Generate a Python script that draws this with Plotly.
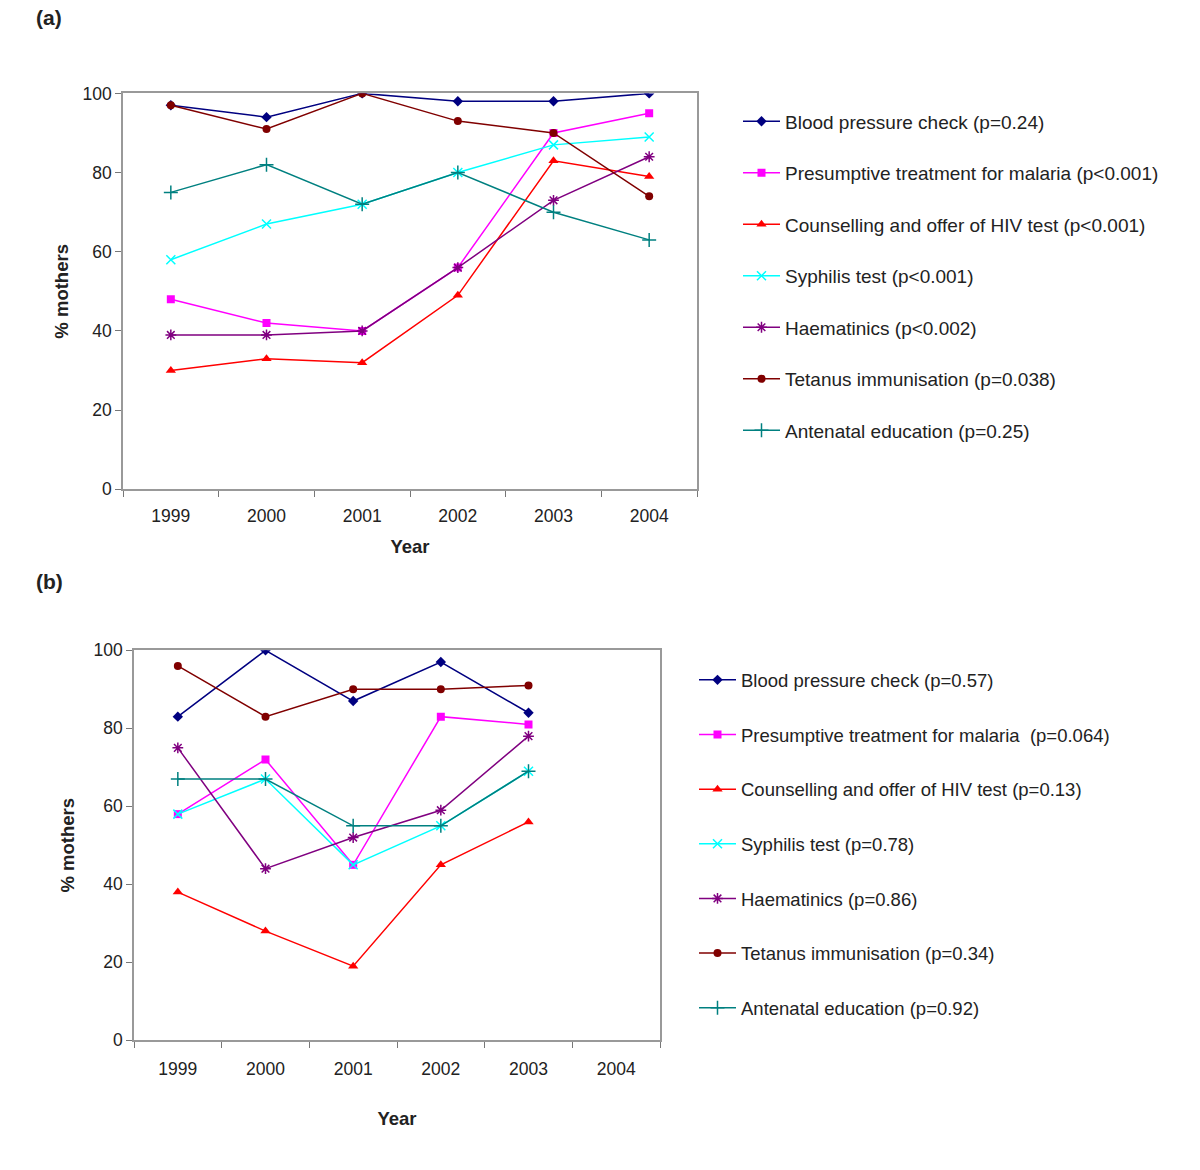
import plotly.graph_objects as go

years = ["1999", "2000", "2001", "2002", "2003", "2004"]

names_a = [
    "Blood pressure check (p=0.24)",
    "Presumptive treatment for malaria (p<0.001)",
    "Counselling and offer of HIV test (p<0.001)",
    "Syphilis test (p<0.001)",
    "Haematinics (p<0.002)",
    "Tetanus immunisation (p=0.038)",
    "Antenatal education (p=0.25)",
]
names_b = [
    "Blood pressure check (p=0.57)",
    "Presumptive treatment for malaria  (p=0.064)",
    "Counselling and offer of HIV test (p=0.13)",
    "Syphilis test (p=0.78)",
    "Haematinics (p=0.86)",
    "Tetanus immunisation (p=0.34)",
    "Antenatal education (p=0.92)",
]

bp_a = [97, 94, 100, 98, 98, 100]
malaria_a = [48, 42, 40, 56, 90, 95]
hiv_a = [30, 33, 32, 49, 83, 79]
syphilis_a = [58, 67, 72, 80, 87, 89]
haem_a = [39, 39, 40, 56, 73, 84]
tetanus_a = [97, 91, 100, 93, 90, 74]
educ_a = [75, 82, 72, 80, 70, 63]

bp_b = [83, 100, 87, 97, 84, None]
malaria_b = [58, 72, 45, 83, 81, None]
hiv_b = [38, 28, 19, 45, 56, None]
syphilis_b = [58, 67, 45, 55, 69, None]
haem_b = [75, 44, 52, 59, 78, None]
tetanus_b = [96, 83, 90, 90, 91, None]
educ_b = [67, 67, 55, 55, 69, None]

colors = ["#000080", "#FF00FF", "#FF0000", "#00FFFF", "#800080", "#800000", "#008080"]
symbols = ["diamond", "square", "triangle-up", "x-thin-open", "asterisk-open", "circle", "cross-thin-open"]
sizes = [8, 8, 9, 9, 9, 8, 10]

series_a = [bp_a, malaria_a, hiv_a, syphilis_a, haem_a, tetanus_a, educ_a]
series_b = [bp_b, malaria_b, hiv_b, syphilis_b, haem_b, tetanus_b, educ_b]

FONT = "Arial, Liberation Sans, sans-serif"
TXT = "#222222"
W, H = 1200, 1170

fig = go.Figure()

for i, (nm, ys) in enumerate(zip(names_a, series_a)):
    open_sym = symbols[i].endswith("open")
    fig.add_trace(go.Scatter(
        x=years, y=ys, name=nm, mode="lines+markers",
        xaxis="x", yaxis="y", legend="legend", legendgroup="a%d" % i,
        line=dict(color=colors[i], width=1.5),
        marker=dict(symbol=symbols[i], size=sizes[i], color=colors[i],
                    line=dict(color=colors[i], width=1.5 if open_sym else 0)),
    ))

for i, (nm, ys) in enumerate(zip(names_b, series_b)):
    open_sym = symbols[i].endswith("open")
    fig.add_trace(go.Scatter(
        x=years, y=ys, name=nm, mode="lines+markers",
        xaxis="x2", yaxis="y2", legend="legend2", legendgroup="b%d" % i,
        line=dict(color=colors[i], width=1.5),
        marker=dict(symbol=symbols[i], size=sizes[i], color=colors[i],
                    line=dict(color=colors[i], width=1.5 if open_sym else 0)),
    ))

def px_x(x):
    return x / W

def px_y(y):
    # screen-position correction observed in the rendering environment
    fy = (y - 9.6) / 0.983
    return 1 - fy / H

axis_common = dict(
    showgrid=False, zeroline=False, showline=True, linecolor="#999999", linewidth=1.5,
    mirror=True, ticks="outside", ticklen=6, tickcolor="#777777",
    tickfont=dict(family=FONT, size=17.5, color=TXT),
)
title_font = dict(family=FONT, size=18.5, color=TXT)

fig.update_layout(
    width=W, height=H,
    margin=dict(l=0, r=0, t=0, b=0),
    paper_bgcolor="white", plot_bgcolor="white",
    font=dict(family=FONT, color=TXT),
    xaxis=dict(axis_common, type="category", categoryorder="array", categoryarray=years,
               domain=[px_x(123), px_x(697)], anchor="y", range=[-0.5, 5.5],
               tickson="boundaries", ticklabelstandoff=10,
               title=dict(text="<b>Year</b>", font=title_font, standoff=15)),
    yaxis=dict(axis_common, domain=[px_y(489), px_y(93)], anchor="x", range=[0, 100],
               tickvals=[0, 20, 40, 60, 80, 100],
               title=dict(text="<b>% mothers</b>", font=title_font, standoff=9)),
    xaxis2=dict(axis_common, type="category", categoryorder="array", categoryarray=years,
                domain=[px_x(134), px_x(660)], anchor="y2", range=[-0.5, 5.5],
                tickson="boundaries", ticklabelstandoff=12,
                title=dict(text="<b>Year</b>", font=title_font, standoff=34)),
    yaxis2=dict(axis_common, domain=[px_y(1040), px_y(650)], anchor="x2", range=[0, 100],
                tickvals=[0, 20, 40, 60, 80, 100],
                title=dict(text="<b>% mothers</b>", font=title_font, standoff=14)),
    legend=dict(x=px_x(738), y=px_y(102), xanchor="left", yanchor="top",
                font=dict(family=FONT, size=19, color=TXT),
                traceorder="grouped", tracegroupgap=23.8, itemwidth=37,
                bgcolor="rgba(0,0,0,0)"),
    legend2=dict(x=px_x(694), y=px_y(661), xanchor="left", yanchor="top",
                 font=dict(family=FONT, size=18.5, color=TXT),
                 traceorder="grouped", tracegroupgap=27.6, itemwidth=37,
                 bgcolor="rgba(0,0,0,0)"),
    annotations=[
        dict(text="<b>(a)</b>", x=px_x(34), y=px_y(17), xref="paper", yref="paper",
             xanchor="left", yanchor="middle", showarrow=False,
             font=dict(family=FONT, size=21, color=TXT)),
        dict(text="<b>(b)</b>", x=px_x(34), y=px_y(581), xref="paper", yref="paper",
             xanchor="left", yanchor="middle", showarrow=False,
             font=dict(family=FONT, size=21, color=TXT)),
    ],
)

fig.write_html("out.html", config={"displayModeBar": False},
               post_script="document.body.style.margin='0px';")
